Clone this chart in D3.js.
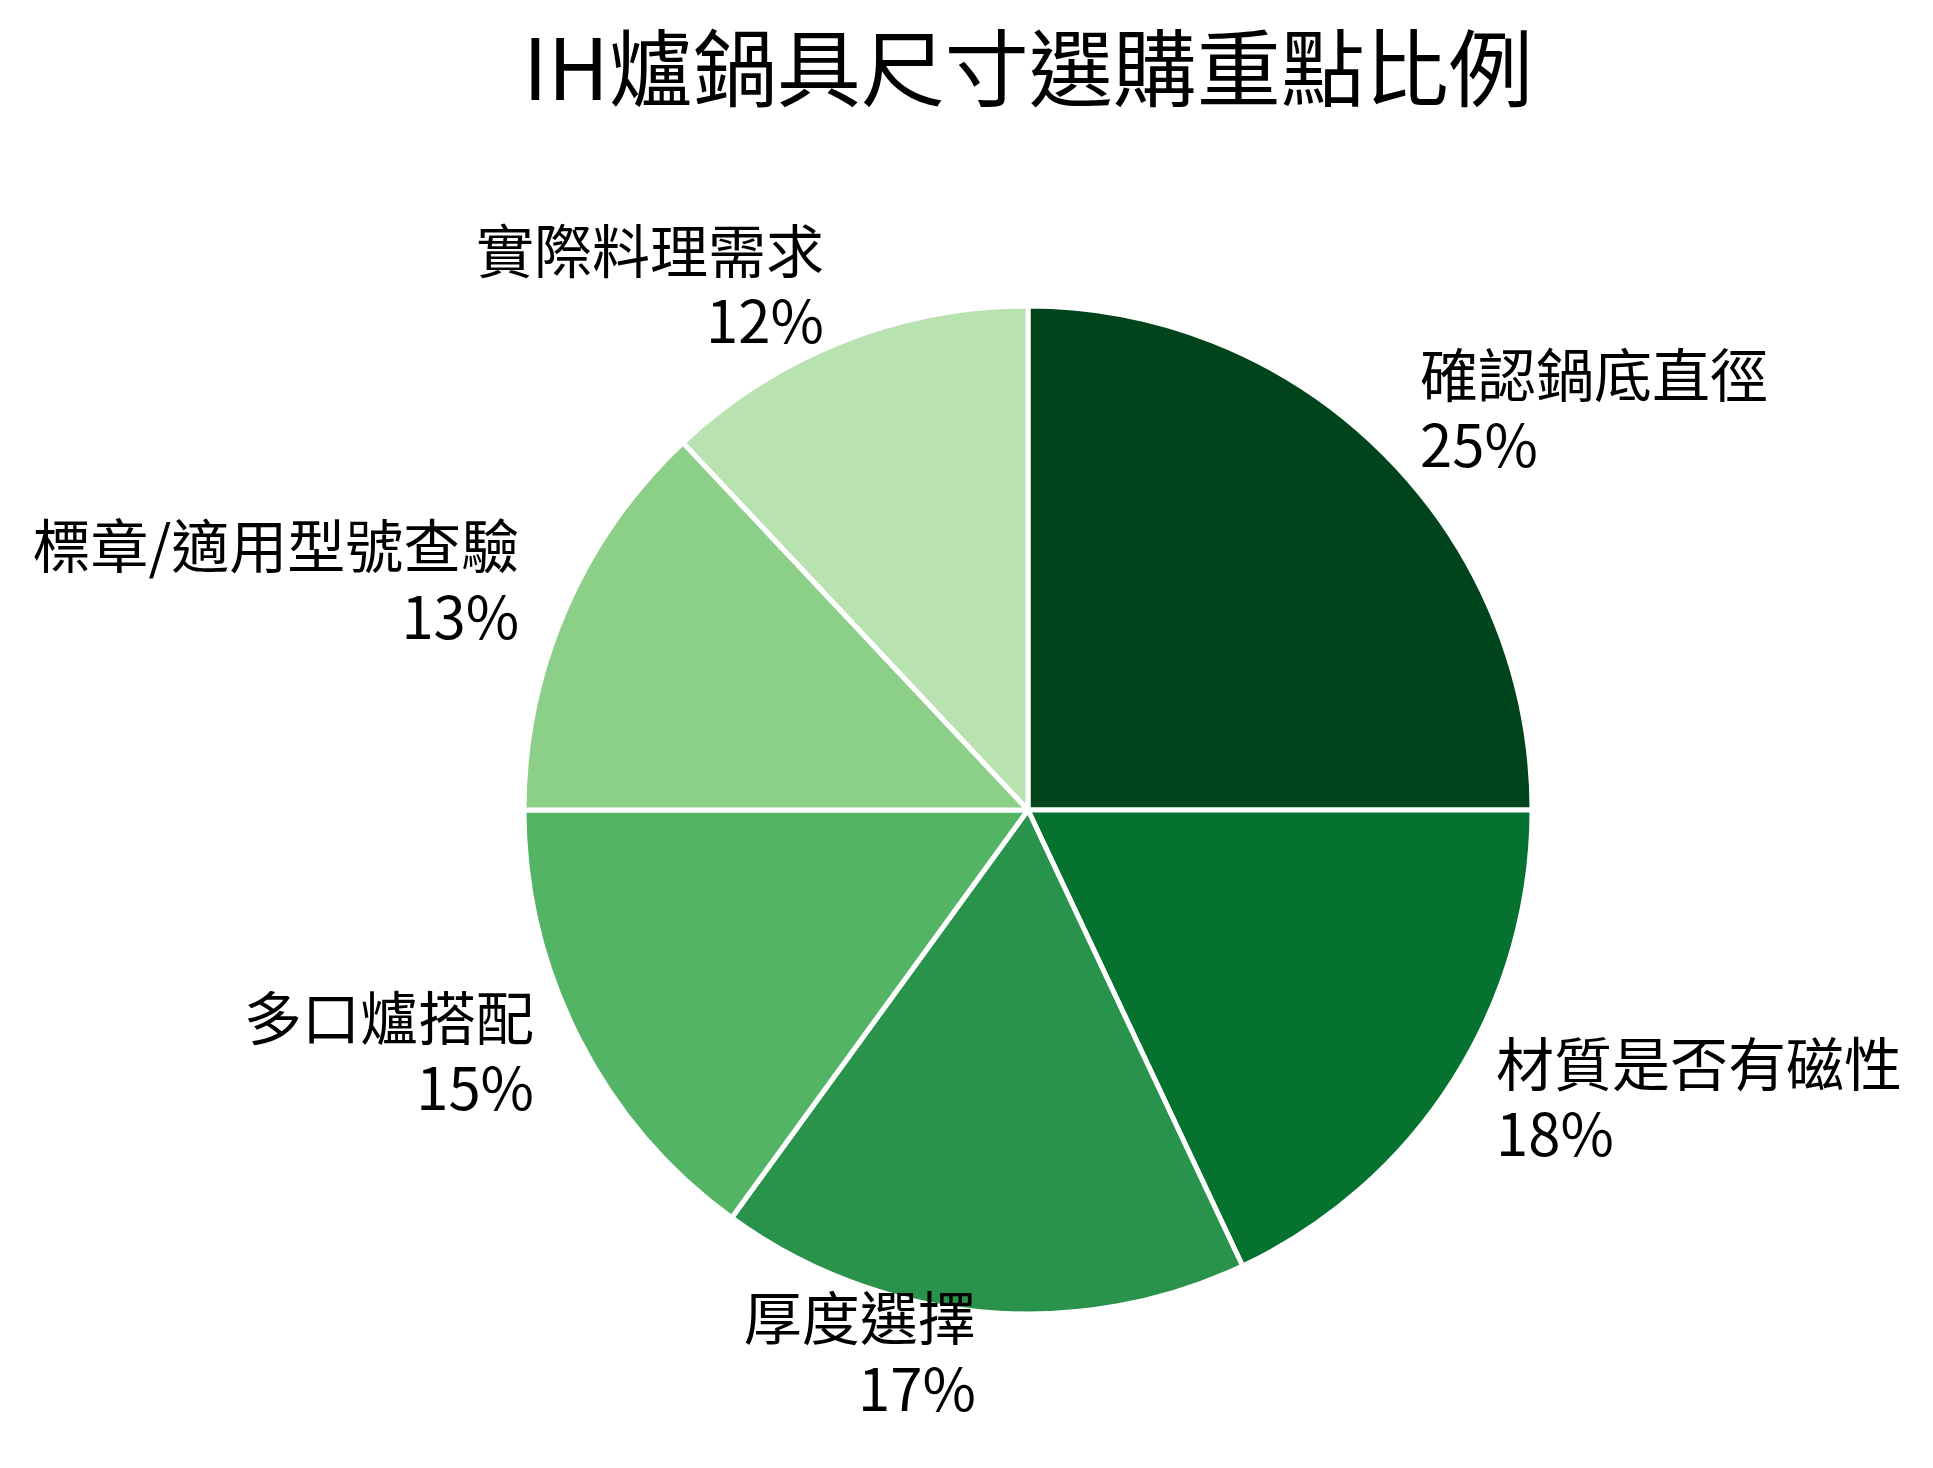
<!DOCTYPE html>
<html lang="zh-Hant">
<head>
<meta charset="utf-8">
<script src="https://d3js.org/d3.v7.min.js"></script>
<style>
    body { margin: 0; background: #fff; }
    svg { display: block; }
    text { font-family: "Noto Sans CJK TC", "Noto Sans CJK SC", sans-serif; fill: #000; }
</style>
</head>
<body>
<svg></svg>
<script>
    const title = "IH爐鍋具尺寸選購重點比例";
    const categories = ["確認鍋底直徑", "材質是否有磁性", "厚度選擇", "多口爐搭配", "標章/適用型號查驗", "實際料理需求"];
    const shares = [25, 18, 17, 15, 13, 12];
    const colors = ["#00441b", "#067230", "#2a934b", "#54b466", "#8ccf89", "#b8e3b1"];

    let width = 1933, height = 1468;
    let cx = 1028, cy = 810, radius = 504;
    let fontSize = 58;

    let svg = d3.select("svg")
        .attr("width", width)
        .attr("height", height);

    svg.append("rect")
        .attr("width", width)
        .attr("height", height)
        .attr("fill", "#fff");

    svg.append("text")
        .attr("x", cx)
        .attr("y", 100)
        .attr("text-anchor", "middle")
        .style("font-size", "84px")
        .text(title);

    let data = categories.map((c, i) => ({ name: c, value: shares[i], color: colors[i] }));

    let pie = d3.pie()
        .sort(null)
        .value((d) => d.value);

    let arc = d3.arc()
        .innerRadius(0)
        .outerRadius(radius);

    let labelArc = d3.arc()
        .innerRadius(radius * 1.1)
        .outerRadius(radius * 1.1);

    let g = svg.append("g")
        .attr("transform", `translate(${cx},${cy})`);

    let arcs = pie(data);

    g.selectAll("path")
        .data(arcs)
        .enter()
        .append("path")
        .attr("d", arc)
        .attr("fill", (d) => d.data.color)
        .attr("stroke", "#fff")
        .attr("stroke-width", 5)
        .attr("stroke-linejoin", "round");

    let total = d3.sum(shares);

    let labels = g.selectAll("text.label")
        .data(arcs)
        .enter()
        .append("text")
        .attr("class", "label")
        .style("font-size", fontSize + "px")
        .attr("text-anchor", (d) => labelArc.centroid(d)[0] >= 0 ? "start" : "end");

    // two lines: name, then percentage
    labels.append("tspan")
        .attr("x", (d) => labelArc.centroid(d)[0])
        .attr("y", (d) => labelArc.centroid(d)[1] - 0.37 * fontSize)
        .text((d) => d.data.name);

    labels.append("tspan")
        .attr("x", (d) => labelArc.centroid(d)[0])
        .attr("y", (d) => labelArc.centroid(d)[1] + 0.84 * fontSize)
        .text((d) => Math.round(d.data.value / total * 100) + "%");
</script>
</body>
</html>
